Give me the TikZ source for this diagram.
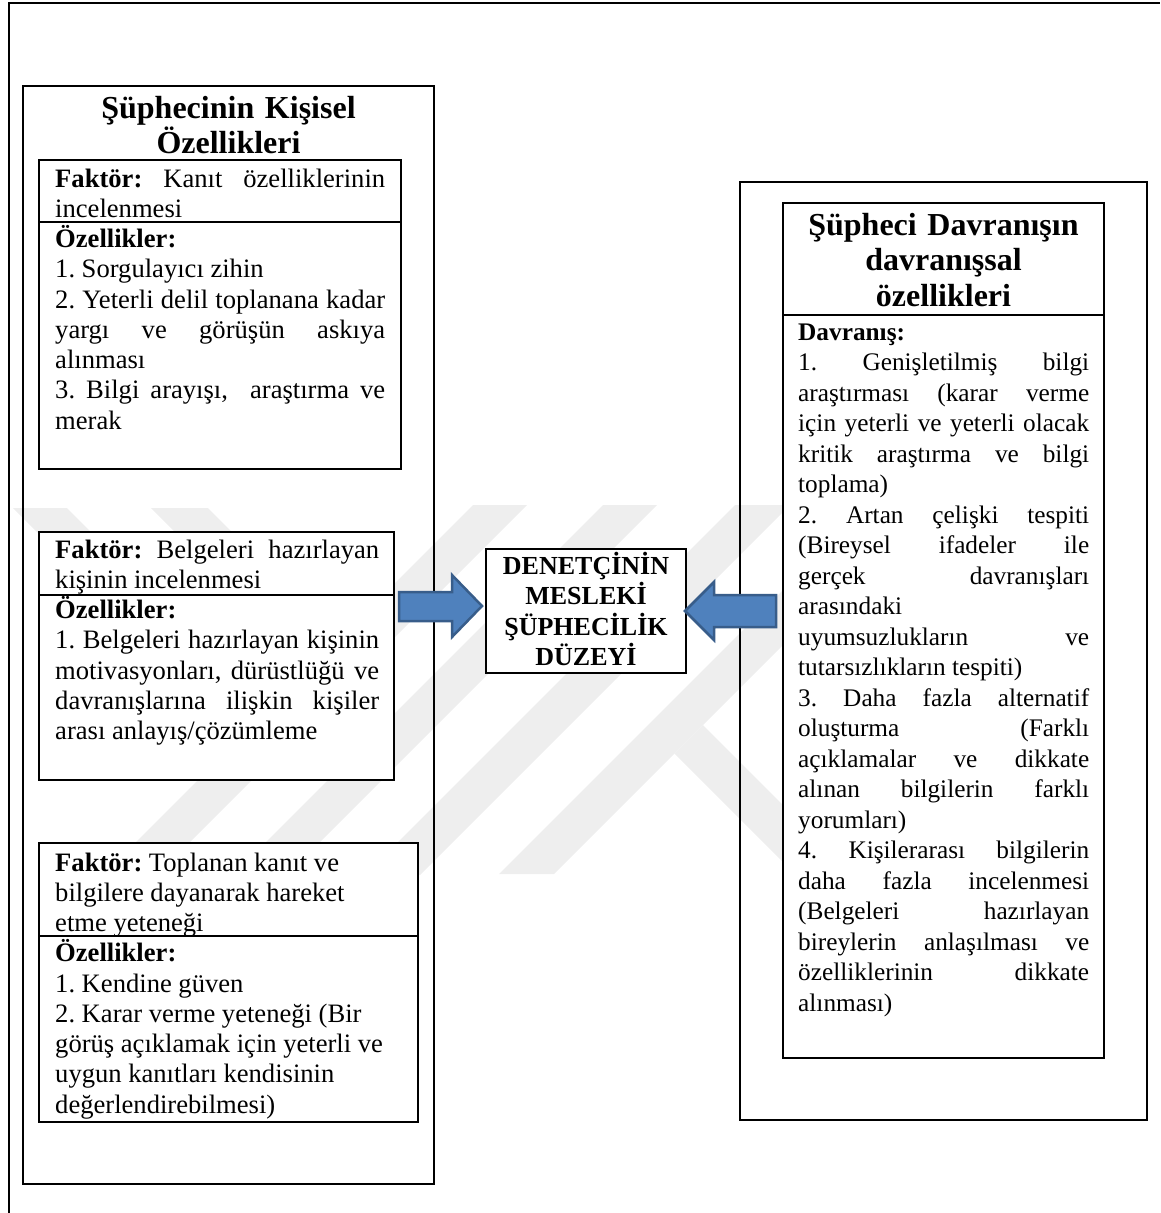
\documentclass[tikz,border=0pt]{standalone}
\usepackage{fontspec}
\setmainfont{Liberation Serif}
\usetikzlibrary{calc}
\newcommand\jst[1]{\hbox to\linewidth{#1}\par}
\newcommand\lft[1]{\hbox to\linewidth{#1\hfil}\par}
\newcommand\ctr[1]{\hbox to\linewidth{\hfil#1\hfil}\par}
\newcommand\tightlines{\frenchspacing\lineskiplimit=-50pt\relax}
\newcommand\wordglue[1]{\frenchspacing\lineskiplimit=-50pt\spaceskip=#1 plus 30pt minus 1.4pt\relax}
\definecolor{arrowfill}{RGB}{79,129,189}
\definecolor{arrowline}{RGB}{56,93,138}
\definecolor{wm}{RGB}{238,238,238}
\begin{document}
\begin{tikzpicture}[x=1pt,y=-1pt,
  frame/.style={draw=black,line width=2pt},
  innerbox/.style={draw=black,line width=2pt,fill=white},
  body/.style={inner sep=0pt,anchor=base west,font=\fontsize{26.6}{30.25}\selectfont,execute at begin node={\wordglue{6.6pt}}},
  ttl/.style={inner sep=0pt,anchor=base,font=\fontsize{32}{35.5}\selectfont\bfseries,execute at begin node=\tightlines},
  ctxt/.style={inner sep=0pt,anchor=base,font=\fontsize{26}{30.6}\selectfont\bfseries,execute at begin node=\tightlines},
  wmark/.style={fill=wm,draw=none},
  blockarrow/.style={fill=arrowfill,draw=arrowline,line width=2.5pt,line join=miter}]

\path[use as bounding box] (0,0) rectangle (1160,1213);

% faint watermark bands
\fill[wmark] (473,505) -- (527,505) -- (157,875) -- (103,875) -- cycle;
\fill[wmark] (603,505) -- (657,505) -- (287,875) -- (233,875) -- cycle;
\fill[wmark] (735,505) -- (790,505) -- (420,875) -- (365,875) -- cycle;
\fill[wmark] (868,505) -- (923,505) -- (554,874) -- (499,874) -- cycle;
\fill[wmark] (13,508) -- (67,508) -- (281,722) -- (254,749) -- cycle;
\fill[wmark] (151,508) -- (208,508) -- (352,652) -- (324,681) -- cycle;
\fill[wmark] (703,725) -- (853,875) -- (796,875) -- (674.5,753.5) -- cycle;

% outer page frame (open at right and bottom)
\draw[frame] (9,1213) -- (9,3) -- (1160,3);

% left column
\draw[frame] (23,86) rectangle (434,1184);
\node[ttl,text width=411] (lefttitle) at (228.5,118)
  {\ctr{Şüphecinin Kişisel}\ctr{Özellikleri}};

\draw[innerbox] (39,160) rectangle (401,469);
\draw[frame] (39,222) -- (401,222);
\node[body,text width=330] (factor1) at (55,187) {%
\jst{\textbf{Faktör:} Kanıt özelliklerinin}
\lft{incelenmesi}
\lft{\textbf{Özellikler:}}
\lft{1. Sorgulayıcı zihin}
\jst{2. Yeterli delil toplanana kadar}
\jst{yargı ve görüşün askıya}
\lft{alınması}
\jst{3. Bilgi arayışı, \ araştırma ve}
\lft{merak}};

\draw[innerbox] (39,532) rectangle (394,780);
\draw[frame] (39,595) -- (394,595);
\node[body,text width=324] (factor2) at (55,558) {%
\jst{\textbf{Faktör:} Belgeleri hazırlayan}
\lft{kişinin incelenmesi}
\lft{\textbf{Özellikler:}}
\jst{1. Belgeleri hazırlayan kişinin}
\jst{motivasyonları, dürüstlüğü ve}
\jst{davranışlarına ilişkin kişiler}
\lft{arası anlayış/çözümleme}};

\draw[innerbox] (39,843) rectangle (418,1122);
\draw[frame] (39,936) -- (418,936);
\node[body,text width=355] (factor3) at (55,871) {%
\lft{\textbf{Faktör:} Toplanan kanıt ve}
\lft{bilgilere dayanarak hareket}
\lft{etme yeteneği}
\lft{\textbf{Özellikler:}}
\lft{1. Kendine güven}
\lft{2. Karar verme yeteneği (Bir}
\lft{görüş açıklamak için yeterli ve}
\lft{uygun kanıtları kendisinin}
\lft{değerlendirebilmesi)}};

% centre box
\node[draw=black,line width=2pt,fill=white,minimum width=200,minimum height=124,inner sep=0pt]
  (centre) at (586,611) {};
\node[ctxt,text width=200] (centretext) at (586,574)
  {\ctr{DENETÇİNİN}\ctr{MESLEKİ}\ctr{ŞÜPHECİLİK}\ctr{DÜZEYİ}};

% right column
\draw[frame] (740,182) rectangle (1147,1120);
\draw[innerbox] (783,203) rectangle (1104,1058);
\draw[frame] (783,315) -- (1104,315);
\node[ttl,text width=321] (righttitle) at (943.5,235)
  {\ctr{Şüpheci Davranışın}\ctr{davranışsal}\ctr{özellikleri}};
\node[body,text width=291,font=\fontsize{25.3}{30.5}\selectfont,execute at begin node={\wordglue{6.3pt}}]
  (behaviour) at (798,340) {%
\lft{\textbf{Davranış:}}
\jst{1. Genişletilmiş bilgi}
\jst{araştırması (karar verme}
\jst{için yeterli ve yeterli olacak}
\jst{kritik araştırma ve bilgi}
\lft{toplama)}
\jst{2. Artan çelişki tespiti}
\jst{(Bireysel ifadeler ile}
\jst{gerçek davranışları}
\lft{arasındaki}
\jst{uyumsuzlukların ve}
\lft{tutarsızlıkların tespiti)}
\jst{3. Daha fazla alternatif}
\jst{oluşturma (Farklı}
\jst{açıklamalar ve dikkate}
\jst{alınan bilgilerin farklı}
\lft{yorumları)}
\jst{4. Kişilerarası bilgilerin}
\jst{daha fazla incelenmesi}
\jst{(Belgeleri hazırlayan}
\jst{bireylerin anlaşılması ve}
\jst{özelliklerinin dikkate}
\lft{alınması)}};

% block arrows pointing at the centre box
\coordinate (ltip) at ($(centre.west)+(-3,-5)$);
\coordinate (rtip) at ($(centre.east)+(-2,0)$);
\filldraw[blockarrow] (ltip) -- ++(-30,-31) -- ++(0,17) -- ++(-53,0) -- ++(0,29) -- ++(53,0) -- ++(0,16) -- cycle;
\filldraw[blockarrow] (rtip) -- ++(29,-29) -- ++(0,13) -- ++(62,0) -- ++(0,32) -- ++(-62,0) -- ++(0,13) -- cycle;
\end{tikzpicture}
\end{document}
